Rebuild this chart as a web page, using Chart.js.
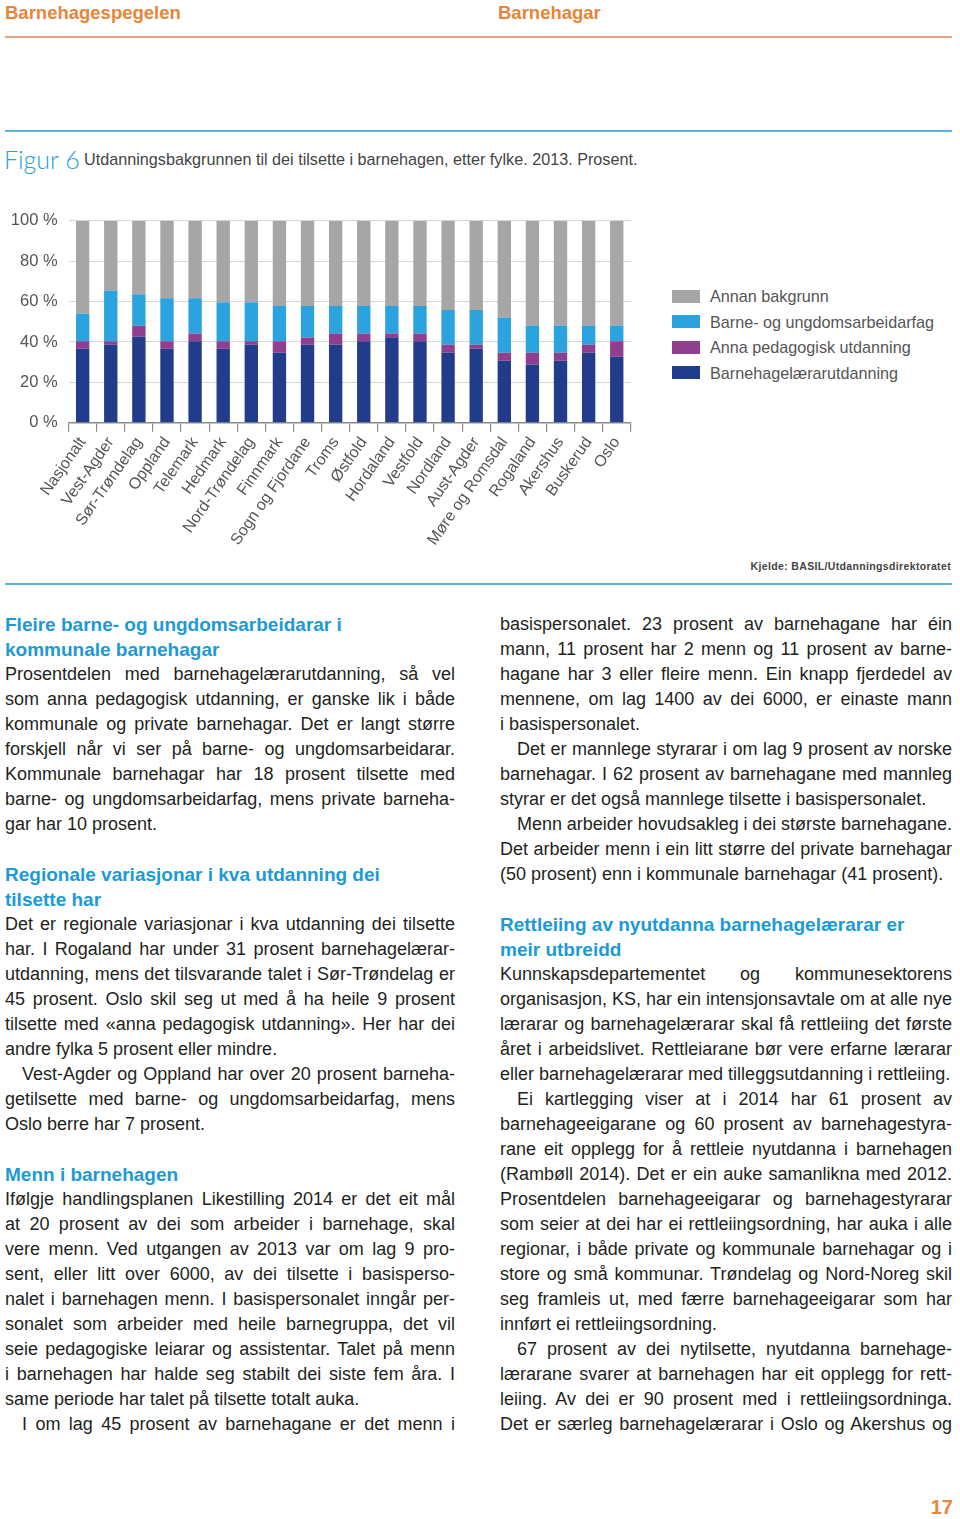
<!DOCTYPE html>
<html><head><meta charset="utf-8">
<script src="https://cdn.jsdelivr.net/npm/chart.js@4.4.1/dist/chart.umd.min.js"></script>
<style>
html,body{margin:0;padding:0;background:#fff;}
body{width:960px;height:1519px;position:relative;overflow:hidden;font-family:"Liberation Sans",Arial,sans-serif;color:#231f20;}
.abs{position:absolute;white-space:nowrap;}
.hdr{font-family:"Liberation Sans",sans-serif;font-weight:bold;font-size:18.5px;color:#e8853a;top:1px;line-height:24px;}
.rule{position:absolute;left:5px;width:947px;}
.line{position:absolute;white-space:nowrap;height:25px;line-height:25px;font-size:18px;}
.h{font-weight:bold;color:#1b9ad6;font-size:19px;}
.leg{position:absolute;left:672px;font-family:"Liberation Sans",sans-serif;font-size:16.2px;color:#555;}
.leg i{position:absolute;left:0;width:28px;height:13px;}
.leg span{position:absolute;left:38px;white-space:nowrap;line-height:20px;top:-10px;}
</style></head><body>

<div class="abs hdr" style="left:5px;">Barnehagespegelen</div>
<div class="abs hdr" style="left:498px;">Barnehagar</div>
<div class="rule" style="top:36px;height:2px;background:#e2a57c;"></div>
<div class="rule" style="top:130px;height:2px;background:#5cb3da;"></div>
<div class="abs" style="left:4px;top:143px;font-family:Lato,'Open Sans',sans-serif;font-weight:300;font-size:25px;color:#27a0d8;line-height:32px;">Figur 6</div>
<div class="abs" style="left:84px;top:148px;font-family:'Liberation Sans',sans-serif;font-size:16.2px;color:#444;line-height:22px;">Utdanningsbakgrunnen til dei tilsette i barnehagen, etter fylke. 2013. Prosent.</div>

<canvas id="c" width="640" height="360" style="position:absolute;left:0;top:200px;"></canvas>
<div id="legend"></div>

<div class="abs" style="right:9px;top:559px;font-size:10.5px;font-weight:bold;color:#444;letter-spacing:0.35px;line-height:14px;">Kjelde: BASIL/Utdanningsdirektoratet</div>
<div class="rule" style="top:583px;height:2px;background:#5cb3da;"></div>

<div class="abs" style="right:7px;top:1495px;font-size:20px;font-weight:bold;color:#e8853a;line-height:24px;">17</div>

<script>
// ---- chart data ----
const categories = ["Nasjonalt","Vest-Agder","Sør-Trøndelag","Oppland","Telemark","Hedmark","Nord-Trøndelag","Finnmark","Sogn og Fjordane","Troms","Østfold","Hordaland","Vestfold","Nordland","Aust-Agder","Møre og Romsdal","Rogaland","Akershus","Buskerud","Oslo"];
const seriesNames = ["Barnehagelærarutdanning","Anna pedagogisk utdanning","Barne- og ungdomsarbeidarfag","Annan bakgrunn"];
const seriesColors = ["#203c8a","#8f3f8d","#2aa3de","#a8a6a5"];
const barnehagelaerar = [36.6,38.6,42.6,36.6,40.4,36.6,38.6,34.7,38.6,38.6,40.4,42.4,40.4,34.7,36.6,30.7,28.9,30.7,34.7,32.7];
const annaPedagogisk  = [3.7,1.7,5.4,3.7,3.8,3.7,1.7,5.6,3.6,5.6,3.8,1.8,3.8,3.9,2.0,4.0,5.8,4.0,3.9,7.6];
const barneUngdom     = [13.7,25.2,15.7,21.4,17.5,19.4,19.4,17.5,15.6,13.6,13.6,13.6,13.6,17.3,17.3,17.4,13.5,13.5,9.6,7.9];
const annanBakgrunn   = [46.0,34.5,36.3,38.3,38.3,40.3,40.3,42.2,42.2,42.2,42.2,42.2,42.2,44.1,44.1,47.9,51.8,51.8,51.8,51.8];
const yTickStep = 10;
const yLabelStep = 20;

const xFont = {family:"'Liberation Sans',sans-serif", size:16};
const yFont = {family:"'Liberation Sans',sans-serif", size:16.5};
const seriesData = [barnehagelaerar, annaPedagogisk, barneUngdom, annanBakgrunn];

new Chart(document.getElementById('c'), {
  type:'bar',
  data:{
    labels:categories,
    datasets:seriesNames.map((n,i)=>({label:n,data:seriesData[i],backgroundColor:seriesColors[i],borderWidth:0,barPercentage:0.95,categoryPercentage:0.5}))
  },
  options:{
    responsive:false, animation:false, devicePixelRatio:1,
    layout:{padding:{top:20.7,left:0,right:9.2,bottom:0}},
    plugins:{legend:{display:false},tooltip:{enabled:false}},
    scales:{
      x:{stacked:true,
         grid:{offset:true,drawOnChartArea:false,drawTicks:true,tickLength:9,color:'#8a8a8a',lineWidth:1.2},
         border:{display:true,color:'#8a8a8a',width:1.5},
         ticks:{autoSkip:false,minRotation:55,maxRotation:55,font:xFont,color:'#555',padding:2},
         afterFit(s){s.height=137.3;}},
      y:{stacked:true,min:0,max:100,
         grid:{color:'#d6d6d6',drawTicks:false,lineWidth:1},
         border:{display:false},
         ticks:{stepSize:yTickStep,font:yFont,color:'#555',padding:11,
                callback:v=> v%yLabelStep===0 ? v+' %' : ''},
         afterFit(s){s.width=68.6;}}
    }
  }
});

// ---- legend (reverse order) ----
const leg = document.getElementById('legend');
const legY = [296,321.5,347,372.5];
[3,2,1,0].forEach((si,k)=>{
  const d=document.createElement('div');
  d.className='leg'; d.style.top=(legY[k])+'px';
  d.innerHTML='<i style="background:'+seriesColors[si]+';top:-6.5px"></i><span>'+seriesNames[si]+'</span>';
  leg.appendChild(d);
});

// ---- body text ----
const leftLines = [
 "H|Fleire barne- og ungdomsarbeidarar i",
 "H|kommunale barnehagar",
 "J|Prosentdelen med barnehagelærarutdanning, så vel",
 "J|som anna pedagogisk utdanning, er ganske lik i både",
 "J|kommunale og private barnehagar. Det er langt større",
 "J|forskjell når vi ser på barne- og ungdomsarbeidarar.",
 "J|Kommunale barnehagar har 18 prosent tilsette med",
 "J|barne- og ungdomsarbeidarfag, mens private barneha-",
 "L|gar har 10 prosent.",
 "B|",
 "H|Regionale variasjonar i kva utdanning dei",
 "H|tilsette har",
 "J|Det er regionale variasjonar i kva utdanning dei tilsette",
 "J|har. I Rogaland har under 31 prosent barnehagelærar-",
 "J|utdanning, mens det tilsvarande talet i Sør-Trøndelag er",
 "J|45 prosent. Oslo skil seg ut med å ha heile 9 prosent",
 "J|tilsette med «anna pedagogisk utdanning». Her har dei",
 "L|andre fylka 5 prosent eller mindre.",
 "JI|Vest-Agder og Oppland har over 20 prosent barneha-",
 "J|getilsette med barne- og ungdomsarbeidarfag, mens",
 "L|Oslo berre har 7 prosent.",
 "B|",
 "H|Menn i barnehagen",
 "J|Ifølgje handlingsplanen Likestilling 2014 er det eit mål",
 "J|at 20 prosent av dei som arbeider i barnehage, skal",
 "J|vere menn. Ved utgangen av 2013 var om lag 9 pro-",
 "J|sent, eller litt over 6000, av dei tilsette i basisperso-",
 "J|nalet i barnehagen menn. I basispersonalet inngår per-",
 "J|sonalet som arbeider med heile barnegruppa, det vil",
 "J|seie pedagogiske leiarar og assistentar. Talet på menn",
 "J|i barnehagen har halde seg stabilt dei siste fem åra. I",
 "L|same periode har talet på tilsette totalt auka.",
 "JI|I om lag 45 prosent av barnehagane er det menn i"
];
const rightLines = [
 "J|basispersonalet. 23 prosent av barnehagane har éin",
 "J|mann, 11 prosent har 2 menn og 11 prosent av barne-",
 "J|hagane har 3 eller fleire menn. Ein knapp fjerdedel av",
 "J|mennene, om lag 1400 av dei 6000, er einaste mann",
 "L|i basispersonalet.",
 "JI|Det er mannlege styrarar i om lag 9 prosent av norske",
 "J|barnehagar. I 62 prosent av barnehagane med mannleg",
 "L|styrar er det også mannlege tilsette i basispersonalet.",
 "JI|Menn arbeider hovudsakleg i dei største barnehagane.",
 "J|Det arbeider menn i ein litt større del private barnehagar",
 "L|(50 prosent) enn i kommunale barnehagar (41 prosent).",
 "B|",
 "H|Rettleiing av nyutdanna barnehagelærarar er",
 "H|meir utbreidd",
 "J|Kunnskapsdepartementet og kommunesektorens",
 "J|organisasjon, KS, har ein intensjonsavtale om at alle nye",
 "J|lærarar og barnehagelærarar skal få rettleiing det første",
 "J|året i arbeidslivet. Rettleiarane bør vere erfarne lærarar",
 "L|eller barnehagelærarar med tilleggsutdanning i rettleiing.",
 "JI|Ei kartlegging viser at i 2014 har 61 prosent av",
 "J|barnehageeigarane og 60 prosent av barnehagestyra-",
 "J|rane eit opplegg for å rettleie nyutdanna i barnehagen",
 "J|(Rambøll 2014). Det er ein auke samanlikna med 2012.",
 "J|Prosentdelen barnehageeigarar og barnehagestyrarar",
 "J|som seier at dei har ei rettleiingsordning, har auka i alle",
 "J|regionar, i både private og kommunale barnehagar og i",
 "J|store og små kommunar. Trøndelag og Nord-Noreg skil",
 "J|seg framleis ut, med færre barnehageeigarar som har",
 "L|innført ei rettleiingsordning.",
 "JI|67 prosent av dei nytilsette, nyutdanna barnehage-",
 "J|lærarane svarer at barnehagen har eit opplegg for rett-",
 "J|leiing. Av dei er 90 prosent med i rettleiingsordninga.",
 "J|Det er særleg barnehagelærarar i Oslo og Akershus og"
];
function renderCol(lines, x, w, top0){
  lines.forEach((ln,k)=>{
    const p = ln.indexOf('|'); const t = ln.slice(0,p); const s = ln.slice(p+1);
    if(t==='B') return;
    const d=document.createElement('div');
    d.className='line'+(t==='H'?' h':'');
    const ind = (t==='JI'||t==='LI')?17:0;
    d.style.left=(x+ind)+'px'; d.style.top=(top0+25*k)+'px';
    d.textContent=s;
    document.body.appendChild(d);
    const avail = w-ind;
    const nat = d.getBoundingClientRect().width;
    const spaces = (s.match(/ /g)||[]).length;
    if(t!=='H' && spaces>0){
      if(t[0]==='J' || nat>avail){
        d.style.wordSpacing=((avail-nat)/spaces)+'px';
      }
    }
  });
}
renderCol(leftLines,5,450,612);
renderCol(rightLines,500,452,612);
</script>
</body></html>
